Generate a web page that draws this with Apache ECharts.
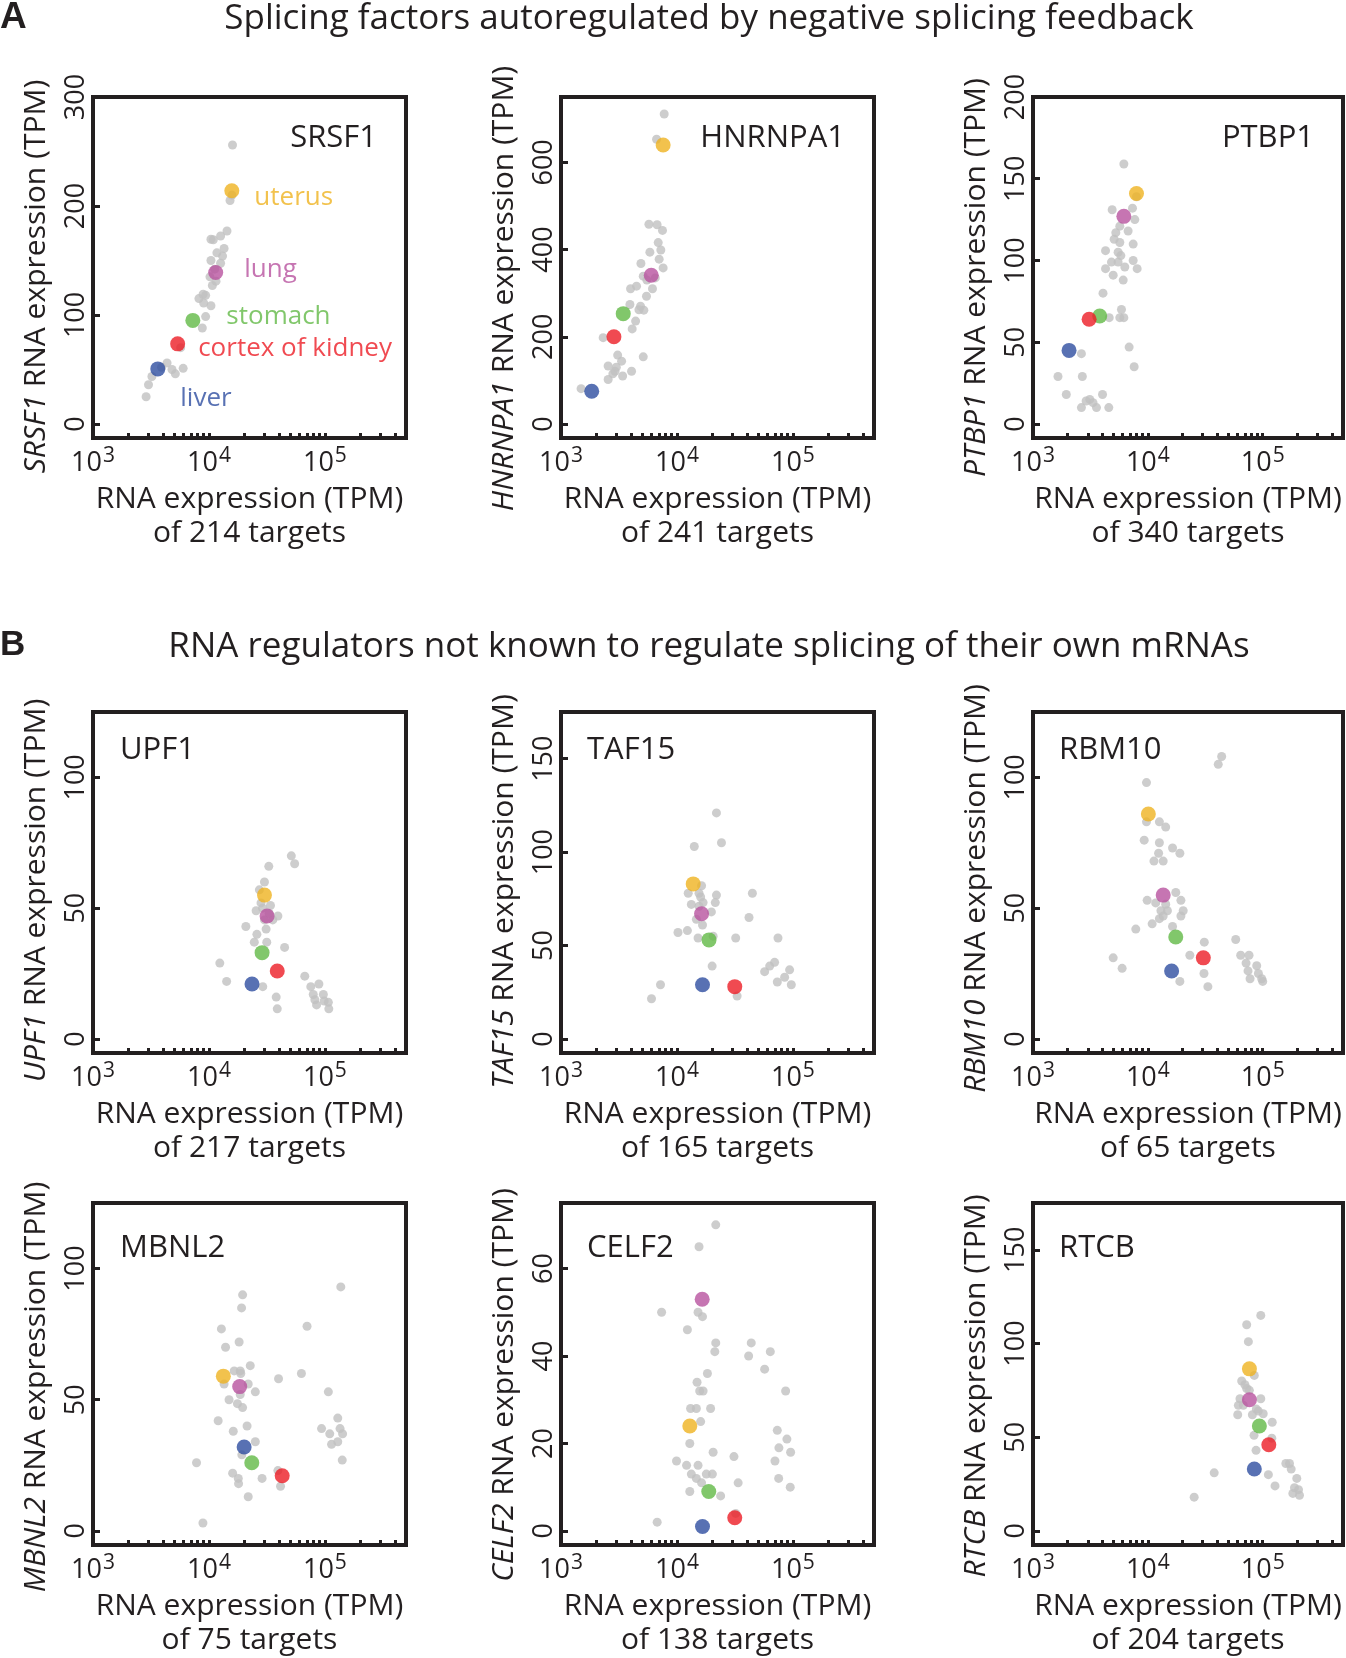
<!DOCTYPE html>
<html><head><meta charset="utf-8">
<script src="https://cdn.jsdelivr.net/npm/echarts@6/dist/echarts.min.js"></script>
<style>html,body{margin:0;padding:0;background:#fff}#c{width:1346px;height:1658px}</style>
</head><body><div id="c"></div><script>
// ---------- data ----------
const tissueNames = ['uterus', 'lung', 'stomach', 'cortex of kidney', 'liver'];
const tissueColors = ['#EFB320', '#B8529F', '#62B946', '#EC1D25', '#2E4DA0'];
const genes = ['SRSF1', 'HNRNPA1', 'PTBP1', 'UPF1', 'TAF15', 'RBM10', 'MBNL2', 'CELF2', 'RTCB'];
const targetCounts = [214, 241, 340, 217, 165, 65, 75, 138, 204];
const yMaxValues = [300, 750, 200, 125, 175, 125, 125, 75, 175];
const yLabelValues = [[0,100,200,300],[0,200,400,600],[0,50,100,150,200],[0,50,100],[0,50,100,150],[0,50,100],[0,50,100],[0,20,40,60],[0,50,100,150]];
const xLabelValues = [1e3, 1e4, 1e5];
const xTickValues = [2e3,3e3,4e3,5e3,6e3,7e3,8e3,9e3,1e4,2e4,3e4,4e4,5e4,6e4,7e4,8e4,9e4,1e5,2e5,3e5,4e5];
const titleA = 'Splicing factors autoregulated by negative splicing feedback';
const titleB = 'RNA regulators not known to regulate splicing of their own mRNAs';

// grey points: [target expression, factor expression]; tissues in order of tissueNames
const srsf1Targets = [[15960,256],[15200,205],[15800,210],[14300,177],[12600,172.5],[10400,169.5],[10900,169],[13500,161],[13100,154],[11700,157],[10400,150],[12600,147.5],[11200,142],[10200,135],[10700,127],[11500,131],[9360,118],[8190,115],[8900,119],[10400,108.5],[9000,111],[9360,98.5],[8760,88],[5700,70],[4350,56],[4800,50],[5990,51],[5130,46],[3900,52],[3220,43.5],[3010,36],[2870,25]];
const srsf1Tissues = [[15740,214],[11430,139],[7260,95],[5370,73.5],[3620,50.5]];
const hnrnpa1Targets = [[7760,711],[6670,653],[5730,458],[6740,457],[7500,444],[6890,416],[7260,399],[5840,394],[7020,378],[7600,358],[4890,368],[5120,339],[4480,316],[3980,310],[6150,310],[5460,293],[3930,274],[4850,270],[5180,261],[4700,262],[4400,236],[4110,218],[2310,198],[3080,158],[5120,154],[2550,133],[3330,144],[2920,121],[4060,121],[2550,102],[3400,110],[3000,130],[2800,115],[1490,81],[5500,330],[6500,335]];
const hnrnpa1Tissues = [[7600,640],[6000,341],[3440,253],[2860,200],[1840,75]];
const ptbp1Targets = [[6180,159],[7960,139],[4890,131],[7350,132],[7700,125],[5700,121],[6730,118],[5260,117],[5090,113],[5700,111],[7450,110],[4280,106],[5510,105],[5820,103],[4820,99],[5510,99],[7450,100],[4280,95],[6300,96],[8070,95],[4990,91],[6100,88],[4070,80],[5890,70],[4610,65],[5700,65],[6180,65],[6870,47],[7600,35],[2640,43],[1650,29],[2690,29],[1950,18],[4030,18],[3120,15],[3330,13],[2640,10],[3570,10],[4570,10],[2900,14]];
const ptbp1Tissues = [[7960,141],[6180,127],[3810,66],[3080,64],[2060,45]];
const upf1Targets = [[51300,70],[54800,67],[32800,66],[30100,60],[27200,57],[28100,52],[33900,51],[25500,49],[39300,47],[30100,45.5],[35500,45.5],[31100,42],[20800,43],[25900,40],[24600,37],[31500,37],[44900,35],[12400,29],[14200,22],[29100,20],[38000,16],[38800,11.5],[67000,24],[75500,20],[88700,21],[79300,17],[96900,17],[81900,15],[98600,14.5],[84700,13],[107000,14],[108000,11.5],[29000,50],[33000,48]];
const upf1Tissues = [[30100,55],[31700,47],[28700,33],[38800,26],[23500,21]];
const taf15Targets = [[21900,121],[24200,105],[14100,103],[16300,82],[12500,78],[15500,78],[21900,77],[44700,78],[13300,72],[16800,73],[21400,73],[19800,68],[14700,64],[16600,61],[41800,65],[10200,57],[12300,58],[15200,54],[20500,55],[32100,54],[74300,54],[20100,39],[57000,36],[63000,39],[69500,41],[73300,30.5],[84800,33],[93600,37],[96800,29],[7210,29],[6030,21.5],[33000,23],[15500,71],[16000,76]];
const taf15Tissues = [[13800,83],[16300,67],[18900,53],[31500,28],[16600,29]];
const rbm10Targets = [[43900,108],[41000,105],[9730,98],[9730,83],[12600,83],[14300,81],[9290,76],[12600,75],[16400,73],[19000,71],[12400,71],[11300,68],[13600,68],[17500,56],[9860,53],[19400,53],[11700,52],[14300,51.5],[13000,49],[14800,49],[20300,49],[13600,47],[19400,47],[12600,46],[10900,44],[16400,43],[7850,42],[31000,37],[58200,38],[4990,31],[5970,27],[23200,32],[30800,25],[33300,20],[19000,22],[64300,32],[76000,32],[71600,29],[74500,26],[77600,23],[88700,28],[91700,25],[98000,23],[100000,22]];
const rbm10Tissues = [[10100,86],[13600,55],[17500,39],[30400,31],[16100,26]];
const mbnl2Targets = [[137000,93],[19500,90],[19100,85],[70100,78],[12800,77],[13900,70],[18200,72],[22700,63],[16500,61],[18600,61],[18800,60],[62700,60],[39800,58],[13500,56],[21800,56],[25100,53],[107000,53],[18600,52],[14900,50],[17600,48.5],[19500,47],[12000,42],[21300,40],[129000,43],[93500,39],[110000,37],[135000,39],[142000,37],[114000,33],[129000,34],[16200,38],[25100,34],[19200,29],[141000,27],[7810,26],[16000,22],[17900,20],[18000,18],[28700,20],[39300,23],[41400,17],[21800,13],[8870,3]];
const mbnl2Tissues = [[13300,59],[18400,55],[23400,26],[42800,21],[20100,32]];
const celf2Targets = [[21600,70],[15500,65],[7370,50],[15200,50],[16600,49],[12300,46],[21600,43],[21200,41],[43700,43],[41500,40],[63800,41],[57000,37],[18300,36],[14900,34],[15700,32],[16800,32],[86500,32],[13100,28],[14700,28],[19500,28],[16000,25],[73300,23],[88700,21],[12900,20],[75700,19],[95500,18],[20500,18],[31000,17],[9910,16],[70000,16],[12100,15],[15200,15],[13300,13],[17900,13],[20200,13],[14700,12],[16300,11],[33700,11],[75300,12],[94800,10],[12900,9],[23800,8],[6750,2],[32100,4]];
const celf2Tissues = [[12900,24],[16500,53],[18800,9],[31500,3],[16600,1]];
const rtcbTargets = [[96200,115],[72500,110],[75000,101],[84500,83],[65600,80],[72500,76],[76500,75],[96200,70.5],[63400,70.5],[61400,67],[67800,67],[91600,64],[101000,62.5],[60600,62],[81300,62],[121000,58],[84000,51],[120000,49.5],[87500,43],[159000,36],[171000,36],[177000,33],[37800,31],[112000,30],[198000,28],[128000,24],[189000,23],[205000,22],[183000,20],[209000,19],[25300,18],[70000,78],[88000,65]];
const rtcbTissues = [[76600,86.5],[76600,70],[93500,56],[113000,46],[84500,33]];

const targetSets = [srsf1Targets, hnrnpa1Targets, ptbp1Targets, upf1Targets, taf15Targets, rbm10Targets, mbnl2Targets, celf2Targets, rtcbTargets];
const tissueSets = [srsf1Tissues, hnrnpa1Tissues, ptbp1Tissues, upf1Tissues, taf15Tissues, rbm10Tissues, mbnl2Tissues, celf2Tissues, rtcbTissues];

// ---------- layout ----------
const FONT = 'Open Sans';
const INK = '#231f20';
const colLeft = [93, 561, 1033], colWidth = [313, 313, 310];
const rowTop = [97, 712, 1203], rowHeight = [341, 341, 344];
const tissueLabelOffsets = [[10, 7], [16, -3], [21, -4], [8, 5], [10, 30]];
const yNameShift = [9, 21, 10, 8, 9, 6, 13, 11, 12];

const chart = echarts.init(document.getElementById('c'), null, {renderer: 'canvas'});
const option = {animation: false, backgroundColor: '#fff', grid: [], xAxis: [], yAxis: [], series: [], graphic: []};

genes.forEach((g, i) => {
  const r = Math.floor(i / 3), c = i % 3;
  option.grid.push({left: colLeft[c], top: rowTop[r], width: colWidth[c], height: rowHeight[r],
    show: true, borderColor: INK, borderWidth: 4, backgroundColor: 'transparent'});
  option.xAxis.push({
    type: 'log', logBase: 10, gridIndex: i, min: 1000, max: 500000,
    axisLine: {show: false, onZero: false}, splitLine: {show: false},
    axisTick: {show: true, inside: true, length: 5, lineStyle: {color: INK, width: 3}, customValues: xTickValues},
    axisLabel: {customValues: xLabelValues, margin: 8, color: INK, fontFamily: FONT, fontSize: 27,
      formatter: v => '10{s|' + Math.round(Math.log10(v)) + '}',
      rich: {s: {fontSize: 21, padding: [0, 0, 13, 1], fontFamily: FONT, color: INK}}},
    name: 'RNA expression (TPM)\nof ' + targetCounts[i] + ' targets', nameLocation: 'middle', nameGap: 44,
    nameTextStyle: {fontFamily: FONT, fontSize: 30, color: INK, lineHeight: 34, verticalAlign: 'top'}
  });
  const ymax = yMaxValues[i];
  const sh = yNameShift[i];
  option.yAxis.push({
    type: 'value', gridIndex: i, min: -0.043 * ymax, max: ymax,
    axisLine: {show: false, onZero: false}, splitLine: {show: false},
    axisTick: {show: true, inside: true, length: 7, lineStyle: {color: INK, width: 3}, customValues: yLabelValues[i]},
    axisLabel: {customValues: yLabelValues[i], rotate: 90, margin: 3, color: INK, fontFamily: FONT, fontSize: 27},
    name: '{i|' + g + '} RNA expression (TPM)', nameLocation: 'middle', nameRotate: 90, nameGap: 42,
    nameTextStyle: {fontFamily: FONT, fontSize: 30, color: INK, padding: [0, 2 * sh, 0, 0],
      rich: {i: {fontStyle: 'italic', fontFamily: FONT, fontSize: 30, color: INK}}}
  });
  option.series.push({type: 'scatter', xAxisIndex: i, yAxisIndex: i, symbol: 'circle', symbolSize: 9,
    itemStyle: {color: '#c0c0c0'}, data: targetSets[i], z: 2});
  option.series.push({type: 'scatter', xAxisIndex: i, yAxisIndex: i, symbol: 'circle', symbolSize: 15, z: 3,
    data: tissueSets[i].map((p, k) => ({
      value: p, name: tissueNames[k], itemStyle: {color: tissueColors[k]},
      label: i === 0 ? {show: true, position: 'right', distance: 5, offset: tissueLabelOffsets[k],
        formatter: '{b}', color: tissueColors[k], fontFamily: FONT, fontSize: 26} : {show: false}
    }))});
  // gene label inside the box
  if (r === 0) {
    option.graphic.push({type: 'text', x: colLeft[c] + colWidth[c] - 29, y: 138,
      style: {text: g, font: '31px "' + FONT + '"', fill: INK, textAlign: 'right', textVerticalAlign: 'middle'}});
  } else {
    option.graphic.push({type: 'text', x: colLeft[c] + (c === 0 ? 27 : 26), y: r === 1 ? 750 : 1248,
      style: {text: g, font: '31px "' + FONT + '"', fill: INK, textAlign: 'left', textVerticalAlign: 'middle'}});
  }
});

option.graphic.push(
  {type: 'text', x: 709, y: 19, style: {text: titleA, font: '35px "' + FONT + '"', fill: INK, textAlign: 'center', textVerticalAlign: 'middle'}},
  {type: 'text', x: 709, y: 647, style: {text: titleB, font: '35px "' + FONT + '"', fill: INK, textAlign: 'center', textVerticalAlign: 'middle'}},
  {type: 'text', x: 0, y: 18, style: {text: 'A', font: 'bold 37px "Liberation Sans Narrow", "Liberation Sans"', fill: INK, textAlign: 'left', textVerticalAlign: 'middle'}},
  {type: 'text', x: 0, y: 645, style: {text: 'B', font: 'bold 35px "Liberation Sans Narrow", "Liberation Sans"', fill: INK, textAlign: 'left', textVerticalAlign: 'middle'}}
);

chart.setOption(option);
</script></body></html>
